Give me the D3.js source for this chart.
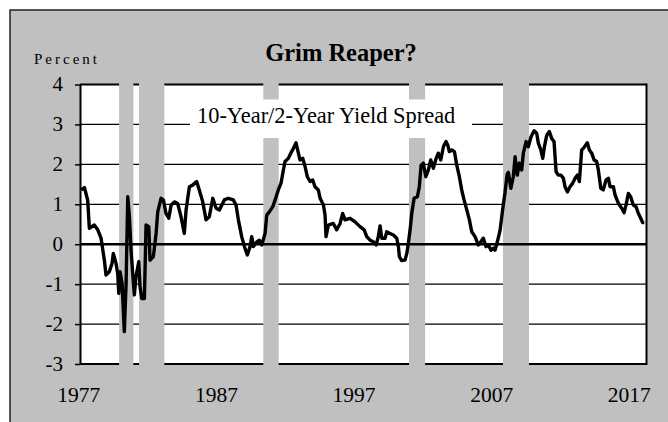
<!doctype html>
<html lang="en">
<head>
  <meta charset="utf-8">
  <script src="https://d3js.org/d3.v7.min.js"></script>
  <style>
    body { margin: 0; background: #fff; }
    text { font-family: "Liberation Serif", "Times New Roman", serif; fill: #000; }
  </style>
</head>
<body>
<script>
  var width = 668,
      height = 422;

  // data (decimal year, percent)
  var years = [
    1977.20, 1977.44, 1977.68, 1977.80, 1978.16, 1978.41, 1978.65, 1978.89, 1979.01, 1979.25,
    1979.45, 1979.54, 1979.74, 1979.86, 1979.94, 1980.03, 1980.18, 1980.34, 1980.47, 1980.59,
    1980.71, 1980.83, 1980.95, 1981.07, 1981.19, 1981.39, 1981.48, 1981.61, 1981.80, 1981.92,
    1982.12, 1982.21, 1982.45, 1982.65, 1982.77, 1983.01, 1983.18, 1983.37, 1983.57, 1983.74,
    1983.98, 1984.22, 1984.46, 1984.70, 1984.83, 1985.07, 1985.31, 1985.60, 1985.79, 1986.04,
    1986.28, 1986.52, 1986.77, 1987.01, 1987.25, 1987.61, 1987.90, 1988.26, 1988.46, 1988.63,
    1988.87, 1989.11, 1989.28, 1989.48, 1989.60, 1989.72, 1989.97, 1990.15, 1990.33, 1990.57,
    1990.69, 1990.88, 1991.13, 1991.30, 1991.53, 1991.73, 1991.90, 1992.02, 1992.26, 1992.44,
    1992.63, 1992.82, 1992.99, 1993.11, 1993.31, 1993.48, 1993.64, 1993.84, 1994.03, 1994.20,
    1994.44, 1994.57, 1994.81, 1994.93, 1995.00, 1995.17, 1995.53, 1995.78, 1996.02, 1996.21,
    1996.38, 1996.75, 1997.11, 1997.47, 1997.77, 1997.96, 1998.20, 1998.44, 1998.64, 1998.80,
    1998.93, 1999.05, 1999.29, 1999.41, 1999.65, 1999.89, 2000.14, 2000.26, 2000.33, 2000.50,
    2000.74, 2000.87, 2000.98, 2001.11, 2001.23, 2001.40, 2001.64, 2001.78, 2001.91, 2002.07,
    2002.25, 2002.44, 2002.61, 2002.80, 2003.00, 2003.16, 2003.34, 2003.53, 2003.72, 2003.85,
    2003.96, 2004.14, 2004.33, 2004.50, 2004.69, 2004.86, 2005.03, 2005.23, 2005.42, 2005.59,
    2005.83, 2006.07, 2006.25, 2006.43, 2006.63, 2006.80, 2006.99, 2007.16, 2007.28, 2007.45,
    2007.65, 2007.83, 2008.01, 2008.16, 2008.25, 2008.43, 2008.61, 2008.74, 2008.90, 2009.05,
    2009.22, 2009.34, 2009.54, 2009.70, 2009.90, 2010.12, 2010.31, 2010.43, 2010.61, 2010.75,
    2010.87, 2011.04, 2011.23, 2011.40, 2011.57, 2011.72, 2011.88, 2012.08, 2012.25, 2012.37,
    2012.54, 2012.73, 2012.93, 2013.10, 2013.26, 2013.41, 2013.58, 2013.70, 2013.99, 2014.14,
    2014.31, 2014.48, 2014.67, 2014.79, 2014.97, 2015.15, 2015.35, 2015.52, 2015.64, 2015.88,
    2016.01, 2016.25, 2016.49, 2016.66, 2016.80, 2016.97, 2017.14, 2017.33, 2017.53, 2017.70,
    2017.87, 2018.01, 2018.13
  ];
  var spread = [
    1.36, 1.42, 1.10, 0.40, 0.48, 0.36, 0.15, -0.40, -0.77, -0.69,
    -0.48, -0.23, -0.48, -0.73, -1.23, -0.69, -0.98, -2.19, -0.98, 1.19,
    0.69, -0.15, -0.73, -1.27, -0.81, -0.44, -1.06, -1.36, -1.36, 0.48,
    0.44, -0.40, -0.31, 0.27, 0.81, 1.15, 1.11, 0.77, 0.65, 0.98,
    1.06, 1.02, 0.69, 0.27, 0.86, 1.44, 1.48, 1.57, 1.36, 1.06,
    0.61, 0.69, 1.15, 0.90, 0.86, 1.11, 1.15, 1.11, 0.98, 0.61,
    0.19, -0.10, -0.27, -0.06, 0.19, -0.06, 0.06, 0.10, -0.02, 0.27,
    0.73, 0.81, 0.94, 1.11, 1.36, 1.53, 1.86, 2.07, 2.15, 2.28,
    2.40, 2.54, 2.28, 2.11, 2.15, 1.94, 1.69, 1.57, 1.61, 1.44,
    1.36, 1.15, 0.98, 0.73, 0.19, 0.48, 0.52, 0.36, 0.52, 0.77,
    0.61, 0.65, 0.56, 0.44, 0.36, 0.19, 0.10, 0.06, -0.02, 0.19,
    0.46, 0.15, 0.15, 0.31, 0.27, 0.23, 0.15, -0.06, -0.31, -0.41,
    -0.40, -0.23, 0.02, 0.36, 0.77, 1.15, 1.19, 1.44, 1.98, 2.03,
    1.69, 1.86, 2.11, 1.90, 2.15, 2.28, 2.11, 2.44, 2.57, 2.48,
    2.32, 2.36, 2.32, 1.98, 1.69, 1.36, 1.11, 0.86, 0.61, 0.31,
    0.19, -0.02, 0.06, 0.15, -0.06, -0.02, -0.15, -0.10, -0.15, 0.06,
    0.35, 0.85, 1.30, 1.75, 1.80, 1.40, 1.69, 2.19, 1.73, 2.03,
    1.86, 2.28, 2.57, 2.44, 2.69, 2.84, 2.78, 2.53, 2.36, 2.15,
    2.44, 2.73, 2.82, 2.65, 2.57, 1.82, 1.73, 1.73, 1.65, 1.44,
    1.31, 1.44, 1.53, 1.65, 1.73, 1.57, 2.36, 2.40, 2.54, 2.36,
    2.28, 2.11, 2.07, 1.86, 1.40, 1.36, 1.61, 1.65, 1.44, 1.44,
    1.23, 1.02, 0.90, 0.79, 0.98, 1.27, 1.19, 0.98, 0.94, 0.77,
    0.65, 0.54, 0.54
  ];

  // recession shading, start / end as drawn
  var recStart = [1979.96, 1981.41, 1990.44, 2001.03, 2007.86];
  var recEnd   = [1981.00, 1983.25, 1991.56, 2002.20, 2009.75];

  var yTicks = [-3, -2, -1, 0, 1, 2, 3, 4];
  var xTicks = [1977, 1987, 1997, 2007, 2017];

  var plot = { left: 80, right: 646.5, top: 84.5, bottom: 364 };

  var x = d3.scaleLinear()
      .domain([1977.12, 2018.29])
      .range([plot.left, plot.right]);

  var y = d3.scaleLinear()
      .domain([-3, 4])
      .range([plot.bottom, plot.top]);

  var svg = d3.select("body").append("svg")
      .attr("width", width)
      .attr("height", height);

  // grey frame
  svg.append("rect")
      .attr("x", 10).attr("y", 10)
      .attr("width", 720).attr("height", 460)
      .attr("fill", "#c0c0c0")
      .attr("stroke", "#222")
      .attr("stroke-width", 1.5);

  svg.append("rect")
      .attr("x", plot.left).attr("y", plot.top)
      .attr("width", plot.right - plot.left)
      .attr("height", plot.bottom - plot.top)
      .attr("fill", "#fff");

  // gridlines
  svg.append("g").selectAll("line")
      .data(yTicks.filter(function(d) { return d != 0 && d != 4 && d != -3; }))
    .enter().append("line")
      .attr("x1", plot.left).attr("x2", plot.right)
      .attr("y1", function(d) { return y(d); })
      .attr("y2", function(d) { return y(d); })
      .attr("stroke", "#000")
      .attr("stroke-width", 1.2);

  // top and bottom edges (bars sit over them)
  svg.append("g").selectAll("line")
      .data([4, -3])
    .enter().append("line")
      .attr("x1", plot.left).attr("x2", plot.right)
      .attr("y1", function(d) { return y(d); })
      .attr("y2", function(d) { return y(d); })
      .attr("stroke", "#000")
      .attr("stroke-width", 2);

  // recession bars
  svg.append("g").selectAll("rect")
      .data(recStart)
    .enter().append("rect")
      .attr("x", function(d) { return x(d); })
      .attr("width", function(d, i) { return x(recEnd[i]) - x(d); })
      .attr("y", plot.top - 2)
      .attr("height", plot.bottom - plot.top + 4)
      .attr("fill", "#c0c0c0");

  // legend box
  svg.append("rect")
      .attr("x", 190).attr("y", 99.5)
      .attr("width", 282).attr("height", 38.5)
      .attr("fill", "#fff");

  svg.append("text")
      .attr("x", 197).attr("y", 122.7)
      .style("font-size", "22.4px")
      .text("10-Year/2-Year Yield Spread");

  // zero line
  svg.append("line")
      .attr("x1", plot.left).attr("x2", plot.right)
      .attr("y1", y(0)).attr("y2", y(0))
      .attr("stroke", "#000")
      .attr("stroke-width", 2.5);

  // right edge
  svg.append("line")
      .attr("x1", plot.right).attr("x2", plot.right)
      .attr("y1", plot.top - 1).attr("y2", plot.bottom + 1)
      .attr("stroke", "#000")
      .attr("stroke-width", 2);

  // y axis
  var yAxis = svg.append("g")
      .attr("transform", "translate(" + plot.left + ",0)")
      .call(d3.axisLeft(y).tickValues(yTicks)
        .tickFormat(function(d) { return String(d); })
        .tickSize(5).tickSizeOuter(0).tickPadding(12));
  yAxis.select(".domain").attr("stroke-width", 2);
  yAxis.selectAll(".tick line").attr("stroke-width", 1.5);
  yAxis.selectAll("text")
      .style("font-size", "21px")
      .style("font-family", "'Liberation Serif', serif")
      .attr("dy", "0.30em");

  // x axis labels
  var xAxis = svg.append("g")
      .attr("transform", "translate(0," + plot.bottom + ")")
      .call(d3.axisBottom(x).tickValues(xTicks).tickFormat(d3.format("d")).tickSize(0).tickPadding(23));
  xAxis.select(".domain").remove();
  xAxis.selectAll("text")
      .style("font-size", "21.5px")
      .style("font-family", "'Liberation Serif', serif");

  // spread line
  var line = d3.line()
      .x(function(d, i) { return x(years[i]); })
      .y(function(d) { return y(d); });

  svg.append("path")
      .datum(spread)
      .attr("d", line)
      .attr("fill", "none")
      .attr("stroke", "#000")
      .attr("stroke-width", 3.4)
      .attr("stroke-linejoin", "round");

  // titles
  svg.append("text")
      .attr("x", 341).attr("y", 60.7)
      .attr("text-anchor", "middle")
      .style("font-size", "24.5px")
      .style("font-weight", "bold")
      .text("Grim Reaper?");

  svg.append("text")
      .attr("x", 34).attr("y", 64)
      .style("font-size", "15px")
      .style("letter-spacing", "3px")
      .text("Percent");
</script>
</body>
</html>
